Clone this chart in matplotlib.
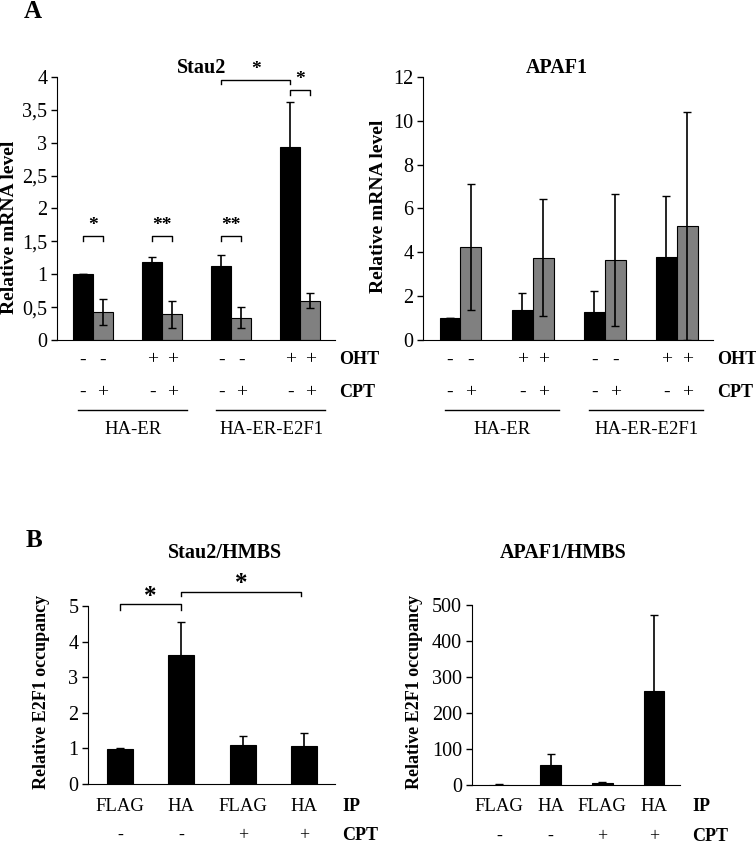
import numpy as np
import matplotlib.pyplot as plt

plt.rcParams['font.family'] = ['Liberation Serif', 'DejaVu Serif']

# ---- data ----
groups = [0, 1, 2, 3]
oht_signs = ['-', '-', '+', '+', '-', '-', '+', '+']
cpt_signs = ['-', '+', '-', '+', '-', '+', '-', '+']
cell_lines = ['HA-ER', 'HA-ER-E2F1']

stau2_black = [1.0, 1.18, 1.12, 2.93]
stau2_black_err = [0.0, 0.08, 0.17, 0.69]
stau2_gray = [0.43, 0.39, 0.34, 0.60]
stau2_gray_err = [0.20, 0.21, 0.16, 0.11]
stau2_ticks = [0, 0.5, 1, 1.5, 2, 2.5, 3, 3.5, 4]
stau2_ticklabels = ['0', '0,5', '1', '1,5', '2', '2,5', '3', '3,5', '4']

apaf1_black = [1.0, 1.37, 1.29, 3.80]
apaf1_black_err = [0.0, 0.76, 0.96, 2.79]
apaf1_gray = [4.26, 3.76, 3.65, 5.20]
apaf1_gray_err = [2.87, 2.66, 3.03, 5.18]
apaf1_ticks = [0, 2, 4, 6, 8, 10, 12]

ip_labels = ['FLAG', 'HA', 'FLAG', 'HA']
cpt_b = ['-', '-', '+', '+']
stau2_chip = [0.99, 3.62, 1.10, 1.08]
stau2_chip_err = [0.01, 0.94, 0.25, 0.36]
stau2_chip_ticks = [0, 1, 2, 3, 4, 5]
apaf1_chip = [1.0, 56, 6.5, 262]
apaf1_chip_err = [0.5, 30, 2, 210]
apaf1_chip_ticks = [0, 100, 200, 300, 400, 500]

GRAY = '#808080'
TICK_FS = 14.5


def style_axis(ax, ticks, ticklabels, ylabel, ylab_x, ylab_y, lab_fs):
    ax.spines['top'].set_visible(False)
    ax.spines['right'].set_visible(False)
    ax.spines['left'].set_bounds(0, ticks[-1])
    ax.set_ylim(0, ticks[-1])
    ax.set_xlim(-0.52, 3.5)
    ax.set_xticks([])
    ax.set_yticks(ticks)
    ax.set_yticklabels(ticklabels, fontsize=TICK_FS)
    ax.tick_params(axis='y', length=4, width=1, pad=3)
    ax.set_ylabel(ylabel, fontsize=lab_fs, fontweight='bold')
    ax.yaxis.set_label_coords(ylab_x, ylab_y)


def bracket(ax, x1, x2, y, h, star_y, text='*', fs=14):
    ax.plot([x1, x1, x2, x2], [y - h, y, y, y - h], color='black', lw=1, clip_on=False)
    ax.text((x1 + x2) / 2, star_y, text, ha='center', va='center', fontsize=fs,
            fontweight='bold', clip_on=False)


def panel_a(ax, black, black_err, gray, gray_err, ticks, ticklabels, title, title_x, ylab_x, ylab_y):
    x = np.array(groups)
    w = 0.29
    ax.bar(x - w / 2, black, w, color='black', edgecolor='black', lw=0.8)
    ax.bar(x + w / 2, gray, w, color=GRAY, edgecolor='black', lw=0.8)
    ax.errorbar(x - w / 2, black, yerr=black_err, fmt='none', ecolor='black', elinewidth=1.2, capsize=2.8)
    ax.errorbar(x + w / 2, gray, yerr=gray_err, fmt='none', ecolor='black', elinewidth=1.2, capsize=2.8)
    style_axis(ax, ticks, ticklabels, 'Relative mRNA level', ylab_x, ylab_y, 14)
    ax.text(title_x, 1.036, title, transform=ax.transAxes, ha='center', va='center',
            fontsize=14.5, fontweight='bold')
    tr = ax.get_xaxis_transform()
    xs = np.ravel(np.column_stack([x - w / 2, x + w / 2]))
    for xi, o, c in zip(xs, oht_signs, cpt_signs):
        ax.text(xi, -0.076, o, transform=tr, ha='center', va='center', fontsize=14, clip_on=False)
        ax.text(xi, -0.20, c, transform=tr, ha='center', va='center', fontsize=14, clip_on=False)
    ax.text(1.015, -0.076, 'OHT', transform=ax.transAxes, ha='left', va='center',
            fontsize=13, fontweight='bold')
    ax.text(1.015, -0.20, 'CPT', transform=ax.transAxes, ha='left', va='center',
            fontsize=13, fontweight='bold')
    for g0, name in zip([0, 2], cell_lines):
        ax.plot([g0 - 0.22, g0 + 1.36], [-0.266, -0.266], transform=tr, color='black', lw=1, clip_on=False)
        ax.text(g0 + 0.58, -0.342, name, transform=tr, ha='center', va='center', fontsize=13.5)
    return x, w


def panel_b(ax, vals, errs, ticks, title, title_x, title_y, ylab_x, ylab_y, w, lab_x, ip_y, cpt_y):
    x = np.array(groups)
    ax.bar(x, vals, w, color='black', edgecolor='black', lw=0.8)
    ax.errorbar(x, vals, yerr=errs, fmt='none', ecolor='black', elinewidth=1.2, capsize=2.8)
    style_axis(ax, ticks, [str(t) for t in ticks], 'Relative E2F1 occupancy', ylab_x, ylab_y, 13)
    ax.text(title_x, title_y, title, transform=ax.transAxes, ha='center', va='center',
            fontsize=14.5, fontweight='bold')
    tr = ax.get_xaxis_transform()
    for xi, ip, c in zip(x, ip_labels, cpt_b):
        ax.text(xi, ip_y, ip, transform=tr, ha='center', va='center', fontsize=13.5, clip_on=False)
        ax.text(xi, cpt_y, c, transform=tr, ha='center', va='center', fontsize=13, clip_on=False)
    ax.text(lab_x, ip_y, 'IP', transform=ax.transAxes, ha='left', va='center',
            fontsize=13, fontweight='bold')
    ax.text(lab_x, cpt_y, 'CPT', transform=ax.transAxes, ha='left', va='center',
            fontsize=13, fontweight='bold')
    return x


fig = plt.figure(figsize=(7.56, 8.44), dpi=100)

ax1 = fig.add_axes([0.0754, 0.5972, 0.3677, 0.3116])
x, w = panel_a(ax1, stau2_black, stau2_black_err, stau2_gray, stau2_gray_err,
               stau2_ticks, stau2_ticklabels, 'Stau2', 0.52, -0.142, 0.43)
bracket(ax1, x[0] - w / 2, x[0] + w / 2, 1.58, 0.07, 1.74, '*')
bracket(ax1, x[1] - w / 2, x[1] + w / 2, 1.58, 0.07, 1.74, '**')
bracket(ax1, x[2] - w / 2, x[2] + w / 2, 1.58, 0.07, 1.74, '**')
bracket(ax1, x[2] - w / 2, x[3] - w / 2, 3.96, 0.07, 4.12)
bracket(ax1, x[3] - w / 2, x[3] + w / 2, 3.80, 0.07, 3.96)

ax2 = fig.add_axes([0.5595, 0.5972, 0.3836, 0.3116])
panel_a(ax2, apaf1_black, apaf1_black_err, apaf1_gray, apaf1_gray_err,
        apaf1_ticks, [str(t) for t in apaf1_ticks], 'APAF1', 0.462, -0.124, 0.51)

ax3 = fig.add_axes([0.1164, 0.0711, 0.3267, 0.2109])
xb = panel_b(ax3, stau2_chip, stau2_chip_err, stau2_chip_ticks, 'Stau2/HMBS', 0.555, 1.298,
             -0.154, 0.517, 0.42, 1.03, -0.129, -0.29)
bracket(ax3, xb[0], xb[1], 5.05, 0.15, 5.28, fs=18)
bracket(ax3, xb[1], xb[3] - 0.06, 5.40, 0.12, 5.62, fs=18)

ax4 = fig.add_axes([0.6243, 0.0699, 0.2751, 0.2133])
panel_b(ax4, apaf1_chip, apaf1_chip_err, apaf1_chip_ticks, 'APAF1/HMBS', 0.4375, 1.289,
        -0.236, 0.517, 0.40, 1.06, -0.122, -0.284)

fig.text(0.0437, 0.9858, 'A', ha='center', va='center', fontsize=18, fontweight='bold')
fig.text(0.045, 0.36, 'B', ha='center', va='center', fontsize=18, fontweight='bold')

fig.savefig('out.png', dpi=100)
